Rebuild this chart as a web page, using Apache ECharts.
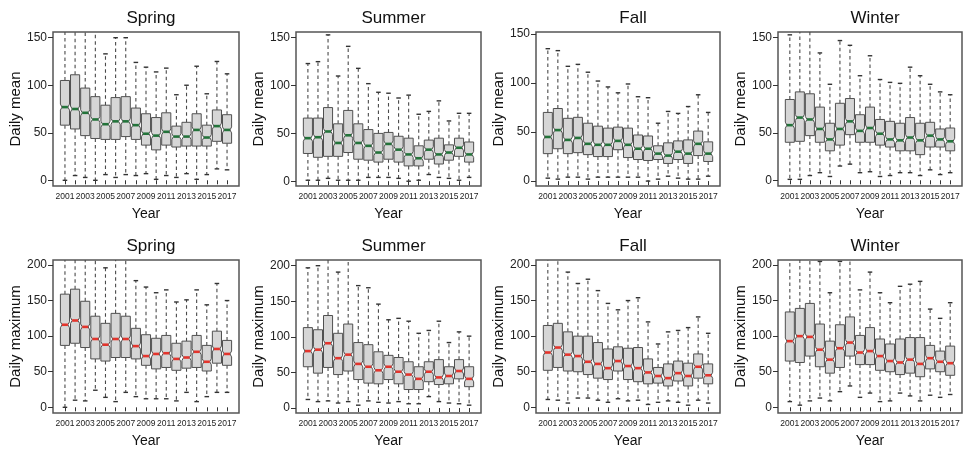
<!DOCTYPE html>
<html>
<head>
<meta charset="utf-8">
<script src="https://cdn.jsdelivr.net/npm/echarts@6/dist/echarts.min.js"></script>
<style>
  html, body { margin: 0; padding: 0; background: #fff; }
  #chart { width: 972px; height: 456px; }
</style>
</head>
<body>
<div id="chart"></div>
<script>
// years on the x axis
var years = [2001, 2002, 2003, 2004, 2005, 2006, 2007, 2008, 2009,
             2010, 2011, 2012, 2013, 2014, 2015, 2016, 2017];
var yearLabels = [2001, 2003, 2005, 2007, 2009, 2011, 2013, 2015, 2017];
var meanTicks = [0, 50, 100, 150];
var maxTicks = [0, 50, 100, 150, 200];
var seasons = ['Spring', 'Summer', 'Fall', 'Winter'];

// rows per year: [lower whisker, Q1, median, Q3, upper whisker]
var springMean = [[0, 58, 77, 105, 165], [5, 54, 75, 111, 165], [3, 47, 71, 97, 165], [0, 44, 64, 88, 165],
  [6, 43, 59, 79, 133], [3, 43, 62, 87, 150], [6, 46, 62, 88, 150], [5, 43, 58, 76, 124],
  [7, 37, 49, 70, 119], [1, 32, 47, 66, 114], [5, 37, 51, 71, 118], [3, 35, 46, 57, 90],
  [7, 36, 46, 61, 100], [1, 36, 53, 70, 120], [6, 36, 45, 58, 91], [12, 41, 57, 74, 125],
  [11, 39, 53, 69, 112]];
var summerMean = [[1, 29, 45, 66, 123], [1, 25, 46, 66, 125], [3, 26, 52, 77, 153], [1, 26, 40, 60, 110],
  [1, 30, 48, 74, 141], [1, 23, 40, 60, 118], [4, 22, 37, 54, 102], [4, 20, 30, 50, 93],
  [4, 23, 39, 51, 92], [3, 20, 33, 47, 87], [0, 16, 28, 45, 90], [1, 16, 24, 37, 70],
  [7, 23, 33, 43, 73], [4, 18, 28, 45, 84], [3, 22, 30, 38, 63], [1, 26, 35, 45, 71],
  [4, 20, 28, 41, 71]];
var fallMean = [[3, 28, 45, 70, 135], [2, 33, 52, 74, 133], [4, 28, 42, 64, 117], [4, 29, 44, 65, 119],
  [2, 27, 38, 59, 111], [4, 25, 37, 56, 102], [4, 25, 37, 54, 96], [4, 32, 41, 55, 90],
  [4, 24, 37, 54, 99], [4, 22, 33, 47, 86], [0, 21, 33, 46, 85], [2, 22, 28, 36, 59],
  [5, 18, 26, 39, 71], [3, 22, 30, 41, 69], [2, 18, 28, 42, 76], [2, 26, 38, 51, 88],
  [5, 20, 28, 40, 70]];
var winterMean = [[1, 40, 58, 85, 153], [1, 41, 66, 93, 165], [5, 47, 64, 91, 165], [8, 40, 54, 77, 134],
  [4, 31, 43, 60, 101], [15, 37, 54, 81, 147], [17, 48, 62, 86, 142], [8, 40, 52, 69, 110],
  [9, 40, 55, 77, 131], [4, 37, 49, 64, 106], [5, 35, 43, 62, 103], [8, 31, 42, 60, 102],
  [8, 31, 45, 66, 119], [5, 27, 42, 60, 110], [11, 35, 47, 61, 101], [6, 35, 43, 54, 93],
  [8, 31, 41, 55, 90]];
var springMax = [[0, 87, 116, 159, 215], [10, 90, 122, 166, 215], [9, 84, 113, 149, 215], [24, 68, 96, 128, 215],
  [14, 65, 88, 118, 196], [8, 70, 96, 132, 215], [21, 70, 96, 128, 215], [15, 68, 86, 111, 178],
  [12, 59, 72, 102, 169], [12, 54, 75, 97, 161], [12, 56, 76, 101, 165], [9, 52, 68, 90, 148],
  [21, 55, 70, 93, 151], [8, 56, 78, 101, 165], [15, 51, 64, 87, 144], [21, 62, 82, 107, 174],
  [21, 59, 75, 94, 150]];
var summerMax = [[12, 58, 80, 113, 197], [9, 49, 82, 110, 200], [10, 57, 91, 130, 215], [7, 47, 70, 105, 191],
  [9, 52, 75, 118, 215], [4, 40, 62, 92, 172], [10, 35, 58, 89, 169], [8, 34, 53, 79, 146],
  [7, 40, 58, 74, 124], [9, 34, 51, 71, 126], [6, 26, 47, 65, 122], [6, 26, 41, 58, 105],
  [16, 37, 51, 65, 109], [9, 33, 43, 68, 122], [7, 34, 45, 58, 92], [6, 41, 52, 68, 107],
  [4, 30, 41, 58, 101]];
var fallMax = [[11, 52, 77, 115, 215], [10, 56, 84, 118, 215], [6, 51, 74, 106, 190], [13, 50, 72, 100, 174],
  [13, 46, 64, 100, 180], [10, 41, 61, 91, 164], [7, 39, 55, 82, 146], [12, 51, 65, 85, 137],
  [9, 39, 58, 83, 150], [10, 36, 55, 84, 154], [4, 33, 49, 68, 120], [7, 34, 44, 56, 89],
  [9, 30, 41, 61, 106], [7, 37, 48, 65, 108], [3, 30, 44, 62, 112], [10, 41, 57, 75, 127],
  [6, 33, 45, 61, 104]];
var winterMax = [[8, 65, 93, 134, 215], [3, 63, 100, 139, 215], [9, 72, 99, 146, 215], [13, 57, 81, 117, 205],
  [9, 48, 67, 93, 161], [22, 56, 83, 116, 205], [30, 72, 91, 127, 215], [14, 60, 77, 101, 165],
  [20, 60, 79, 112, 190], [8, 52, 72, 96, 161], [9, 50, 65, 89, 147], [20, 46, 63, 96, 170],
  [16, 48, 67, 98, 173], [9, 43, 61, 98, 177], [17, 54, 69, 87, 138], [14, 50, 64, 79, 125],
  [18, 45, 62, 86, 147]];

var panels = [
  {title: 'Spring', yName: 'Daily mean', data: springMean, color: '#23733a'},
  {title: 'Summer', yName: 'Daily mean', data: summerMean, color: '#23733a'},
  {title: 'Fall', yName: 'Daily mean', data: fallMean, color: '#23733a'},
  {title: 'Winter', yName: 'Daily mean', data: winterMean, color: '#23733a'},
  {title: 'Spring', yName: 'Daily maximum', data: springMax, color: '#e3342c'},
  {title: 'Summer', yName: 'Daily maximum', data: summerMax, color: '#e3342c'},
  {title: 'Fall', yName: 'Daily maximum', data: fallMax, color: '#e3342c'},
  {title: 'Winter', yName: 'Daily maximum', data: winterMax, color: '#e3342c'}
];

var colLeft = [53, 296, 536, 778];
var colWidth = [186, 185, 184, 184];
var rowTop = [32, 260];
var rowHeight = [154, 153];
var yRange = [[-6, 156], [-5, 156], [-5, 152], [-6, 156], [-8, 207], [-7, 208], [-8, 207], [-8, 207]];

var FONT = 'Liberation Sans, Arial, sans-serif';

function renderBox(color) {
  return function(params, api) {
    var x = api.value(0);
    var pLo = api.coord([x, api.value(1)]);
    var pQ1 = api.coord([x, api.value(2)]);
    var pMed = api.coord([x, api.value(3)]);
    var pQ3 = api.coord([x, api.value(4)]);
    var pHi = api.coord([x, api.value(5)]);
    var cx = pMed[0];
    var hw = api.size([1, 0])[0] * 0.45;
    var d = 1.6, n = 3;
    var ym = pMed[1];
    // notched box outline
    var pts = [
      [cx - hw, pQ1[1]], [cx - hw, ym + n], [cx - hw + d, ym], [cx - hw, ym - n], [cx - hw, pQ3[1]],
      [cx + hw, pQ3[1]], [cx + hw, ym - n], [cx + hw - d, ym], [cx + hw, ym + n], [cx + hw, pQ1[1]]
    ];
    var dash = {stroke: '#4a4a4a', lineWidth: 1.1, lineDash: [3.5, 3]};
    var cap = {stroke: '#333', lineWidth: 1.4};
    return {
      type: 'group',
      children: [
        {type: 'line', shape: {x1: cx, y1: pQ3[1], x2: cx, y2: pHi[1]}, style: dash},
        {type: 'line', shape: {x1: cx, y1: pQ1[1], x2: cx, y2: pLo[1]}, style: dash},
        {type: 'line', shape: {x1: cx - hw / 2, y1: pHi[1], x2: cx + hw / 2, y2: pHi[1]}, style: cap},
        {type: 'line', shape: {x1: cx - hw / 2, y1: pLo[1], x2: cx + hw / 2, y2: pLo[1]}, style: cap},
        {type: 'polygon', shape: {points: pts}, style: {fill: '#d6d6d6', stroke: '#505050', lineWidth: 1}},
        {type: 'line', shape: {x1: cx - hw + d, y1: ym, x2: cx + hw - d, y2: ym},
          style: {stroke: color, lineWidth: 2.6}}
      ]
    };
  };
}

var chart = echarts.init(document.getElementById('chart'), null, {renderer: 'canvas'});

var grids = [], xAxes = [], yAxes = [], series = [], titles = [];
panels.forEach(function(p, i) {
  var col = i % 4, row = Math.floor(i / 4);
  grids.push({
    left: colLeft[col], top: rowTop[row], width: colWidth[col], height: rowHeight[row],
    show: true, borderColor: '#555', borderWidth: 1.5, backgroundColor: 'transparent'
  });
  titles.push({
    text: p.title, left: colLeft[col] + colWidth[col] / 2, top: rowTop[row] - 27, textAlign: 'center',
    textStyle: {fontFamily: FONT, fontSize: 17, fontWeight: 'normal', color: '#111'}
  });
  xAxes.push({
    type: 'value', gridIndex: i, min: 1999.82, max: 2018.18,
    name: 'Year', nameLocation: 'middle', nameGap: 21,
    nameTextStyle: {fontFamily: FONT, fontSize: 14, color: '#111'},
    axisLine: {show: false},
    axisTick: {show: true, length: 4, customValues: years, lineStyle: {color: '#333'}},
    axisLabel: {customValues: yearLabels, fontSize: 8.5, margin: 6, color: '#222', fontFamily: FONT,
      formatter: function(v) { return String(v); }},
    splitLine: {show: false}
  });
  var ticks = row === 0 ? meanTicks : maxTicks;
  yAxes.push({
    type: 'value', gridIndex: i, min: yRange[i][0], max: yRange[i][1],
    name: p.yName, nameLocation: 'middle', nameGap: 30,
    nameTextStyle: {fontFamily: FONT, fontSize: 15, color: '#111'},
    axisLine: {show: false},
    axisTick: {show: true, length: 5, customValues: ticks, lineStyle: {color: '#333'}},
    axisLabel: {customValues: ticks, fontSize: 12, margin: 6, color: '#222', fontFamily: FONT},
    splitLine: {show: false}
  });
  series.push({
    type: 'custom', xAxisIndex: i, yAxisIndex: i, clip: true,
    renderItem: renderBox(p.color),
    data: p.data.map(function(r, k) { return [years[k]].concat(r); })
  });
});

chart.setOption({
  backgroundColor: '#fff',
  animation: false,
  title: titles,
  grid: grids,
  xAxis: xAxes,
  yAxis: yAxes,
  series: series
});
</script>
</body>
</html>
